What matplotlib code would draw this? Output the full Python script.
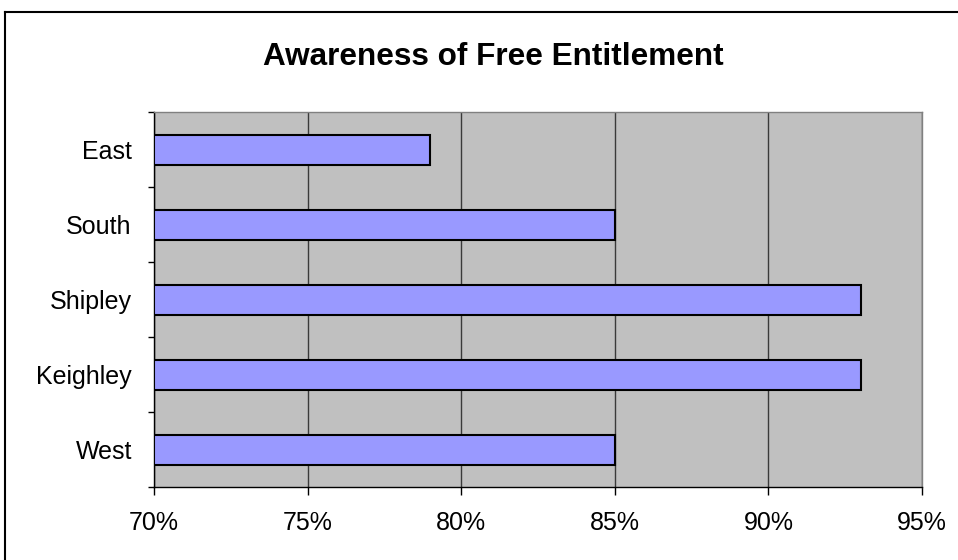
import matplotlib.pyplot as plt
from matplotlib.lines import Line2D
from matplotlib.ticker import FuncFormatter, MultipleLocator

categories = ['East', 'South', 'Shipley', 'Keighley', 'West']
awareness = [79, 85, 93, 93, 85]

plt.rcParams['font.family'] = ['Liberation Sans', 'DejaVu Sans']

fig = plt.figure(figsize=(9.58, 5.6), dpi=100)
ax = fig.add_axes([154 / 958, 73 / 560, 768 / 958, 375 / 560])

ypos = list(range(len(categories)))
ax.barh(ypos, [v - 70 for v in awareness], left=70, height=0.4,
        color='#9999FF', edgecolor='black', linewidth=1.5, zorder=3)

ax.set_xlim(70, 95)
ax.set_ylim(len(categories) - 0.5, -0.5)
ax.set_facecolor('#C0C0C0')

ax.xaxis.set_major_locator(MultipleLocator(5))
ax.xaxis.set_major_formatter(FuncFormatter(lambda v, p: '%d%%' % v))
ax.grid(axis='x', color='#3a3a3a', linewidth=1, zorder=1)

ax.set_yticks(ypos)
ax.set_yticklabels(categories)
ax.set_yticks([i - 0.5 for i in range(len(categories) + 1)], minor=True)
ax.tick_params(axis='y', which='major', length=0, pad=16, labelsize=18)
ax.tick_params(axis='y', which='minor', length=4.5, width=1, direction='out')
ax.tick_params(axis='x', length=6, width=1, pad=11, labelsize=18, direction='out')

for side in ['left', 'bottom']:
    ax.spines[side].set_color('black')
    ax.spines[side].set_linewidth(1)
for side in ['top', 'right']:
    ax.spines[side].set_color('#808080')
    ax.spines[side].set_linewidth(1)

fig.text(493 / 958, 1 - 65 / 560, 'Awareness of Free Entitlement',
         ha='center', va='baseline', fontsize=22.7, fontweight='bold')

# outer chart border (runs off right and bottom edges)
fig.add_artist(Line2D([5 / 958, 1.01], [1 - 12 / 560, 1 - 12 / 560],
                      transform=fig.transFigure, color='black', linewidth=1.5))
fig.add_artist(Line2D([5 / 958, 5 / 958], [1 - 12 / 560, -0.01],
                      transform=fig.transFigure, color='black', linewidth=1.5))

fig.savefig('out.png', dpi=100)
